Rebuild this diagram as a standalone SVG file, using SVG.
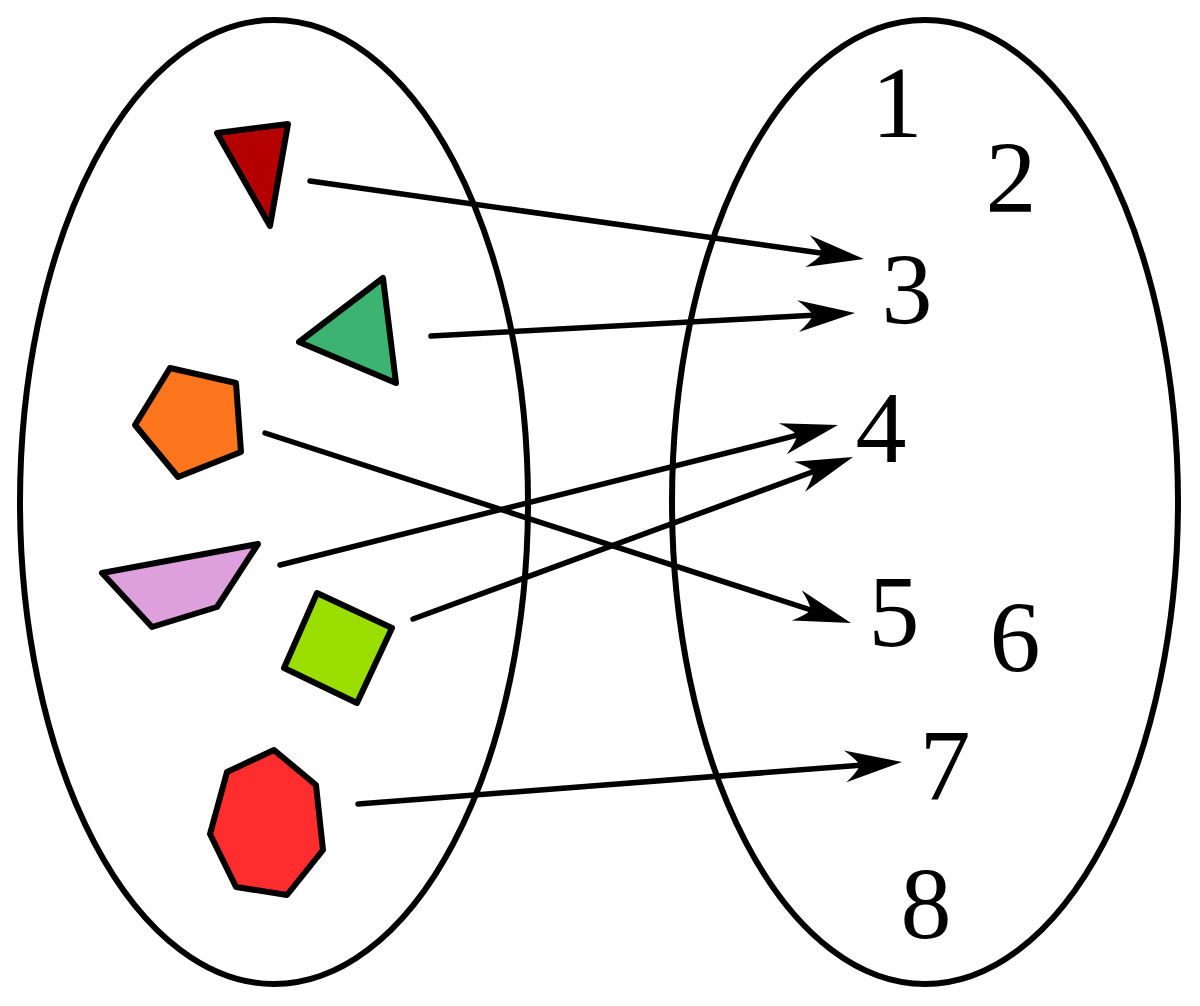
<svg xmlns="http://www.w3.org/2000/svg" width="1200" height="1006" viewBox="0 0 1200 1006">
<style>
.set{fill:none;stroke:#000;stroke-width:6}
.shape{stroke:#000;stroke-width:6;stroke-linejoin:round}
.conn{fill:none;stroke:#000;stroke-width:5.5;stroke-linecap:round}
.num{font-family:"Liberation Serif","Times New Roman",serif;font-size:102px;fill:#000;text-anchor:middle}
</style>
<defs>
<marker id="arr" markerUnits="userSpaceOnUse" viewBox="0 -20 62 40" markerWidth="62" markerHeight="40" refX="18" refY="0" orient="auto">
<path d="M60,0 L3,-16 Q14,-7 18,0 Q14,7 3,16 Z" fill="#000"/>
</marker>
</defs>
<rect width="1200" height="1006" fill="#fff"/>
<g id="domain"><ellipse class="set" cx="274" cy="502" rx="254" ry="482"/></g>
<g id="codomain"><ellipse class="set" cx="925" cy="502" rx="253" ry="482"/></g>
<g id="red-triangle"><polygon class="shape" fill="#b40000" points="217,133 288,124 270,226"/></g>
<g id="green-triangle"><polygon class="shape" fill="#3cb371" points="299,342 383,278 396,383"/></g>
<g id="orange-pentagon"><polygon class="shape" fill="#fd751c" points="170,368 236,383 241,452 178,477 135,425"/></g>
<g id="pink-quad"><polygon class="shape" fill="#dda0dd" points="102,573 258,544 217,607 152,627"/></g>
<g id="lime-square"><polygon class="shape" fill="#9ade00" points="317,593 392,628 357,703 284,668"/></g>
<g id="red-heptagon"><polygon class="shape" fill="#ff2d2d" points="227,772 274,750 316,785 323,850 287,895 236,887 210,834"/></g>
<g id="n1"><text class="num" x="897" y="137">1</text></g>
<g id="n2"><text class="num" x="1011" y="212">2</text></g>
<g id="n3"><text class="num" x="907" y="324">3</text></g>
<g id="n4"><text class="num" x="881" y="462">4</text></g>
<g id="n5"><text class="num" x="894" y="646">5</text></g>
<g id="n6"><text class="num" x="1015" y="672">6</text></g>
<g id="n7"><text class="num" x="945" y="800">7</text></g>
<g id="n8"><text class="num" x="926" y="938">8</text></g>
<g id="connectors">
<line class="conn" x1="310" y1="181" x2="822.4" y2="253.2" marker-end="url(#arr)"/>
<line class="conn" x1="431" y1="336" x2="813.1" y2="315.3" marker-end="url(#arr)"/>
<line class="conn" x1="265" y1="433" x2="811" y2="610" marker-end="url(#arr)"/>
<line class="conn" x1="280" y1="565" x2="797.3" y2="435.2" marker-end="url(#arr)"/>
<line class="conn" x1="413" y1="619" x2="813.6" y2="471.5" marker-end="url(#arr)"/>
<line class="conn" x1="358" y1="804" x2="860.1" y2="765.2" marker-end="url(#arr)"/>
</g>
</svg>
